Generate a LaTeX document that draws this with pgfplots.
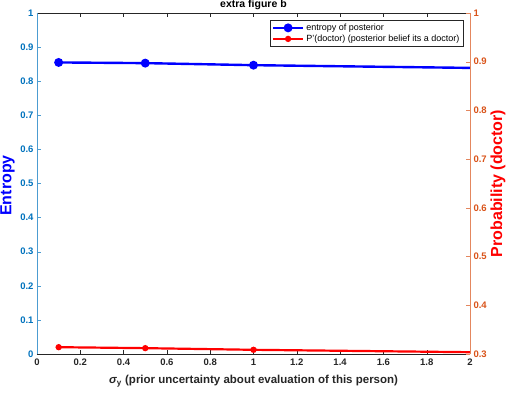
\documentclass[border=0pt]{standalone}
\usepackage{fontspec}
\setmainfont{Liberation Sans}
\usepackage{pgfplots}
\pgfplotsset{compat=1.18}
\definecolor{lblue}{rgb}{0,0.447,0.741}
\definecolor{rorange}{rgb}{0.85,0.325,0.098}
\definecolor{axgray}{rgb}{0.15,0.15,0.15}
\begin{document}
\begin{tikzpicture}
\useasboundingbox (-37pt,-40pt) rectangle (475pt,354pt);
\pgfplotsset{
  every axis/.append style={
    scale only axis, width=433pt, height=341pt,
    xmin=0, xmax=2,
    /pgf/number format/assume math mode=true,
    tick label style={font=\bfseries\fontsize{9.5}{11}\selectfont},
    tick align=inside,
    major tick length=4pt,
  },
}
\begin{axis}[
  axis y line*=left, axis x line*=box,
  ymin=0, ymax=1,
  ytick={0,0.1,...,1.0},
  xtick={0,0.2,...,2.0},
  y axis line style={lblue!70},
  y tick style={lblue!70},
  yticklabel style={text=lblue},
  x axis line style={axgray},
  x tick style={axgray},
  xticklabel style={text=axgray, yshift=-1.5pt},
  ylabel={Entropy},
  ylabel style={font=\bfseries\fontsize{16}{18}\selectfont, text=blue, at={([xshift=-29.5pt, yshift=-2pt]rel axis cs:0,0.5)}, anchor=center},
  xlabel={\textit{σ}\textsubscript{y} (prior uncertainty about evaluation of this person)},
  xlabel style={font=\bfseries\fontsize{11.5}{13}\selectfont, text=axgray, at={([yshift=-30pt]rel axis cs:0.5,0)}, anchor=base},
  title={extra figure b},
  title style={font=\bfseries\fontsize{10.5}{12}\selectfont, anchor=base, yshift=-0.6pt},
  legend style={at={(rel axis cs:0.984,0.979)}, anchor=north east, font=\fontsize{9}{10.5}\selectfont, draw=axgray, inner sep=1.5pt, row sep=-1pt, cells={anchor=west}},
  legend image code/.code={\draw[#1, mark indices={2}] plot coordinates {(0pt,0pt) (15pt,0pt) (30pt,0pt)};},
]
\addplot[blue, line width=2.4pt, mark=*, mark size=3.2pt, mark indices={1,2,3}] coordinates {(0.1,0.855) (0.5,0.853) (1,0.847) (2,0.839)};
\addlegendentry{entropy of posterior}
\addlegendimage{red, line width=2.2pt, mark=*, mark size=2pt}
\addlegendentry{P'(doctor) (posterior belief its a doctor)}
\end{axis}
\begin{axis}[
  axis y line*=right, axis x line=none,
  ymin=0.3, ymax=1,
  ytick={0.3,0.4,...,1.0},
  y axis line style={rorange!70},
  y tick style={rorange!70},
  yticklabel style={text=rorange},
  ylabel={Probability (doctor)},
  ylabel style={font=\bfseries\fontsize{16}{18}\selectfont, text=red, at={([xshift=28pt]rel axis cs:1,0.5)}, anchor=center},
]
\addplot[red, line width=2.2pt, mark=*, mark size=2pt, mark indices={1,2,3}] coordinates {(0.1,0.314) (0.5,0.312) (1,0.3086) (2,0.3037)};
\end{axis}
\end{tikzpicture}
\end{document}
